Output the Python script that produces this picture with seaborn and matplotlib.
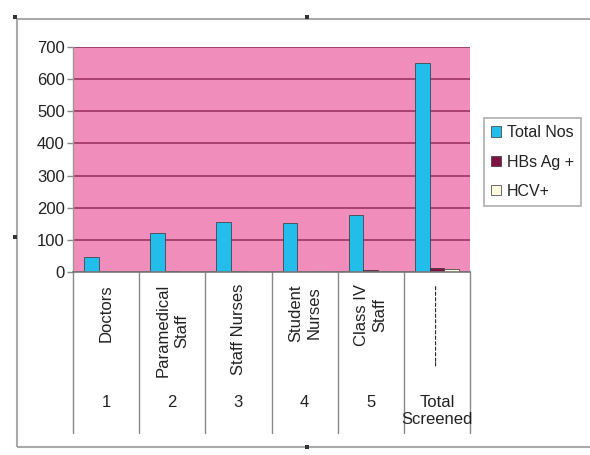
import matplotlib
matplotlib.use("Agg")
import matplotlib.pyplot as plt
import seaborn as sns
import pandas as pd
from matplotlib.patches import Rectangle
from matplotlib.lines import Line2D

categories = ["Doctors", "Paramedical\nStaff", "Staff Nurses", "Student\nNurses", "Class IV\nStaff", "---------------"]
numbers = ["1", "2", "3", "4", "5", "Total\nScreened"]
series = ["Total Nos", "HBs Ag +", "HCV+"]
total_nos = [47, 121, 156, 152, 177, 651]
hbs_ag = [0, 3, 3, 1, 5, 14]
hcv = [0, 1, 1, 2, 3, 9]
colors = ["#22BDEB", "#7E1240", "#FFFCE0"]

rows = []
for i, c in enumerate(numbers):
    for s, vals in zip(series, [total_nos, hbs_ag, hcv]):
        rows.append({"cat": c, "series": s, "value": vals[i]})
df = pd.DataFrame(rows)

sns.set_theme(style="white")
plt.rcParams["font.family"] = ["Liberation Sans", "DejaVu Sans"]

fig = plt.figure(figsize=(5.9, 4.55), dpi=100)
ax = fig.add_axes([73/590, 1-272/455, (470-73)/590, 225/455])

sns.barplot(data=df, x="cat", y="value", hue="series", palette=colors, saturation=1,
            width=0.667, gap=0, edgecolor="#333333", linewidth=0.5,
            ax=ax, legend=True)

ax.set_facecolor("#F18DBB")
ax.set_ylim(0, 700)
ax.set_xlim(-0.5, 5.5)
ax.set_yticks(range(0, 701, 100))
ax.set_yticklabels([str(v) for v in range(0, 701, 100)], fontsize=12, color="#222222")
ax.set_xticks([])
ax.set_xlabel("")
ax.set_ylabel("")
ax.yaxis.grid(True, color="#A8406E", linewidth=1.4)
ax.set_axisbelow(True)
ax.tick_params(axis="y", length=4, width=1, color="#888888", direction="out", pad=2, left=True)
for sp in ["top", "right"]:
    ax.spines[sp].set_visible(False)
ax.spines["left"].set_color("#999999")
ax.spines["bottom"].set_color("#777777")
ax.spines["left"].set_linewidth(1)
ax.spines["bottom"].set_linewidth(1.2)

# category table lines below axis
trans = ax.get_xaxis_transform()
ybot = -(433-272)/225
for b in [i - 0.5 for i in range(7)]:
    ax.add_line(Line2D([b, b], [0, ybot], transform=trans, color="#888888",
                       linewidth=1, clip_on=False))

for i, (c, n) in enumerate(zip(categories, numbers)):
    ax.text(i, -(284-272)/225, c, transform=trans, rotation=90, ha="center", va="top",
            fontsize=12, color="#222222", linespacing=1.3)
    ax.text(i, -(395-272)/225, n, transform=trans, ha="center", va="top",
            fontsize=12, color="#222222", linespacing=1.15)

leg = ax.legend(loc="upper left", bbox_to_anchor=(484/590, 1-118/455), bbox_transform=fig.transFigure,
                fontsize=11.5, frameon=True, fancybox=False, handlelength=0.6, handleheight=0.6,
                handletextpad=0.4, labelspacing=0.9, borderpad=0.45, borderaxespad=0)
leg.get_frame().set_edgecolor("#999999")
leg.get_frame().set_linewidth(1.2)
for t in leg.get_texts():
    t.set_color("#222222")

# outer chart border
fig.patches.append(Rectangle((17/590, 1-447/455), 600/590, (447-19)/455, transform=fig.transFigure,
                             fill=False, edgecolor="#AAAAAA", linewidth=1.5))
for (px, py) in [(15, 17), (307, 17), (15, 237), (307, 447)]:
    fig.patches.append(Rectangle(((px-2)/590, 1-(py+2)/455), 4/590, 4/455, transform=fig.transFigure,
                                 facecolor="#333333", edgecolor="none"))

fig.savefig("out.png", dpi=100)
